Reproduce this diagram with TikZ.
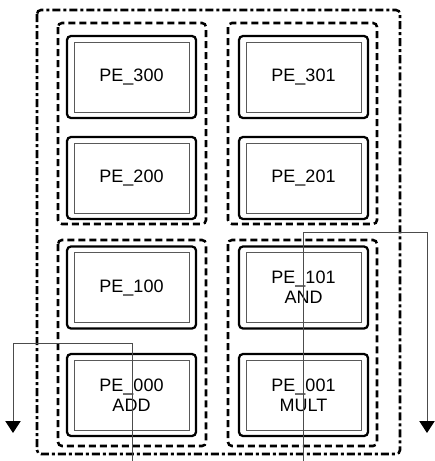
\documentclass[tikz,border=0pt]{standalone}
\usepackage{fontspec}
\setmainfont{Liberation Sans}
\usetikzlibrary{arrows.meta,positioning}
\tikzset{pe/.style={draw,line width=1.7pt,rounded corners=3pt,
    minimum width=96.75pt,minimum height=61.5pt,align=center,
    font=\fontsize{13.5}{15}\selectfont,
    path picture={\draw[peinner]
      ([shift={(5.25pt,4.5pt)}]path picture bounding box.south west) rectangle
      ([shift={(-5.25pt,-4.5pt)}]path picture bounding box.north east);}},
  peinner/.style={draw=black!65,line width=.6pt,sharp corners},
  group/.style={line width=1.9pt,rounded corners=3pt,dash pattern=on 5.25pt off 3pt},
  chip/.style={line width=1.9pt,rounded corners=3pt,
    dash pattern=on 6pt off 2.25pt on 2.25pt off 2.25pt},
  sig/.style={draw=black!70,line width=.75pt,
    -{Triangle[width=11.5pt,length=9pt,color=black]}}}
\begin{document}
\begin{tikzpicture}[x=.75pt,y=-.75pt]
\useasboundingbox (0,0) rectangle (435,461);
% Processing elements, column 0 and column 1.
\node[pe] (pe300) at (131.5,77) {PE\_300};
\node[pe] (pe200) at (131.5,178) {PE\_200};
\node[pe] (pe100) at (131.5,287.5) {PE\_100};
\node[pe] (pe000) at (131.5,395) {PE\_000\\ADD};
\node[pe] (pe301) at (303.5,77) {PE\_301};
\node[pe] (pe201) at (303.5,178) {PE\_201};
\node[pe] (pe101) at (303.5,287.5) {PE\_101\\AND};
\node[pe] (pe001) at (303.5,395) {PE\_001\\MULT};

% Tiles and the whole array.
\draw[group] (58,23) rectangle (206,224);
\draw[group] (228,23) rectangle (377,224);
\draw[group] (58,240) rectangle (206,446);
\draw[group] (228,240) rectangle (377,446);
\draw[chip] (37,10) rectangle (400,454);

% Routed outputs.
\coordinate (addin) at (132,461);
\coordinate (addout) at (13,433);
\coordinate (multin) at (303,461);
\coordinate (multout) at (427,433);
\draw[sig] (addin) -- ++(0,-118) -| (addout);
\draw[sig] (multin) -- ++(0,-229) -| (multout);
\end{tikzpicture}
\end{document}
